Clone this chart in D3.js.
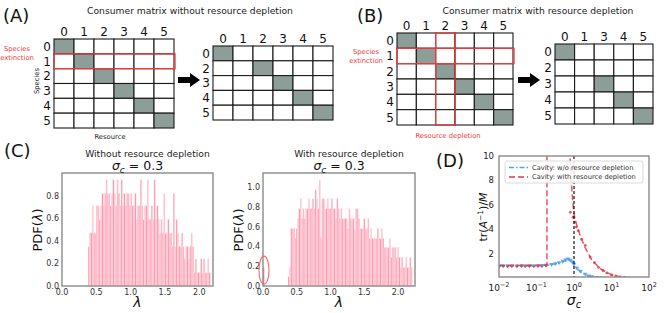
<!DOCTYPE html>
<html>
<head>
<meta charset="utf-8">
<script src="https://cdn.jsdelivr.net/npm/d3@7"></script>
<style>
  body { margin: 0; background: #fff; }
  text { font-family: "DejaVu Sans", sans-serif; }
</style>
</head>
<body>
<svg id="fig" width="664" height="313"></svg>
<script>
// ---- panel A / B : consumer matrices ----
const speciesAll = [0, 1, 2, 3, 4, 5];
const resourceAll = [0, 1, 2, 3, 4, 5];
const consumes = [[0, 0], [1, 1], [2, 2], [3, 3], [4, 4], [5, 5]]; // [species, resource]
const speciesAfter = [0, 2, 3, 4, 5];          // species 1 extinct
const resourceAfterB = [0, 1, 3, 4, 5];        // resource 2 depleted
const extinctSpecies = 1;
const depletedResource = 2;

// ---- panel C : eigenvalue histograms (sigma_c = 0.3) ----
const binWidth = 0.02;
const histNoDepStart = 0.38;
const histNoDep = [0.35,0.47,0.47,0.71,0.47,0.47,0.71,0.71,0.59,0.71,0.82,0.71,0.82,0.94,0.82,0.82,0.71,0.82,0.94,0.82,
  0.71,0.94,0.82,0.71,0.94,0.71,0.82,0.71,0.82,0.82,0.71,0.82,0.71,0.71,0.82,0.59,0.71,0.71,0.94,0.71,
  0.59,0.71,0.71,0.94,0.59,0.59,0.71,0.59,0.94,0.59,0.71,0.59,0.47,0.59,0.47,0.82,0.47,0.47,0.59,0.47,
  0.47,0.35,0.82,0.35,0.59,0.47,0.35,0.35,0.47,0.35,0.24,0.35,0.35,0.24,0.35,0.47,0.35,0.12,0.24,0.12,
  0.12,0.12,0.24,0.12,0.24,0.12,0.12,0.24,0.12];
const histDepStart = 0.37;
const histDep = [0.10,0.19,0.58,0.58,0.58,0.48,0.58,0.68,0.78,0.88,0.68,0.78,0.68,0.78,0.78,0.88,0.78,0.78,0.88,0.78,
  0.97,0.88,0.78,1.07,0.49,0.88,0.88,0.78,0.78,0.88,0.78,0.78,0.88,0.78,0.78,0.68,0.88,0.78,0.68,0.78,
  0.68,0.68,0.68,0.68,0.58,0.78,0.68,0.68,0.68,0.58,0.78,0.78,0.68,0.58,0.58,0.58,0.68,0.58,0.58,0.68,
  0.48,0.58,0.48,0.48,0.48,0.48,0.58,0.48,0.48,0.58,0.48,0.39,0.39,0.39,0.39,0.48,0.29,0.39,0.39,0.39,
  0.29,0.39,0.29,0.19,0.29,0.19,0.19,0.29,0.19,0.19,0.29,0.19];
const zeroModeLambda = 0.0;
const zeroModePdf = 0.19;

// ---- panel D : tr(A^-1)/M vs sigma_c ----
const cavityNoDep = [[0.01,1.05],[0.03,1.05],[0.1,1.06],[0.15,1.08],[0.2,1.1],[0.3,1.18],[0.4,1.27],[0.5,1.36],
  [0.6,1.44],[0.7,1.5],[0.8,1.5],[0.9,1.38],[1.0,1.15],[1.2,0.82],[1.5,0.52],[2,0.3],[3,0.13],[5,0.05],
  [10,0.015],[30,0.003],[100,0.001]];
const cavityDepLow = [[0.01,1.05],[0.05,1.05],[0.1,1.06],[0.15,1.07],[0.19,1.08],[0.19,12]];
const cavityDepHigh = [[0.75,12],[0.8,9.2],[0.86,7.6],[0.93,6.2],[1.0,5.2],[1.2,4.3],[1.5,3.4],[2,2.5],
  [3,1.5],[5,0.8],[7.5,0.5],[10,0.3],[20,0.09],[50,0.02],[100,0.005]];
const simNoDep = [[0.01,1.03],[0.013,1.04],[0.017,1.03],[0.022,1.04],[0.03,1.03],[0.04,1.05],[0.05,1.04],
  [0.065,1.05],[0.085,1.04],[0.11,1.06],[0.14,1.07],[0.18,1.1],[0.25,1.15],[0.32,1.22],[0.4,1.3],
  [0.5,1.42],[0.6,1.55],[0.7,1.6],[0.8,1.5],[0.9,1.35],[1.0,1.15],[1.2,0.85],[1.5,0.6],[2,0.35],
  [2.5,0.22],[3,0.15],[4,0.08],[5,0.05],[7,0.03],[10,0.02],[15,0.01]];
const simDep = [[0.01,1.0],[0.013,1.01],[0.017,1.0],[0.022,1.01],[0.03,1.0],[0.04,1.01],[0.05,1.0],
  [0.065,1.01],[0.085,1.0],[0.11,1.02],[0.14,1.01],[0.18,1.03],[0.8,5.4],[0.95,5.0],[1.05,4.6],
  [1.15,4.2],[1.3,3.9],[1.6,3.2],[2.0,2.7],[2.7,1.75],[3.5,1.3],[4.5,0.9],[5.9,0.65],[7.5,0.45],
  [10,0.3],[13,0.2],[17,0.13],[22,0.08],[30,0.05],[40,0.03],[55,0.02],[75,0.015],[100,0.01]];
const dTicksX = [0.01, 0.1, 1, 10, 100];
const dTicksY = [2, 4, 6, 8, 10];

const svg = d3.select("#fig");
const RED = "#ee3b3b";
const GRAY_CELL = "#8d9e99";

// panel letters
[["(A)", 3, 22], ["(B)", 357, 22], ["(C)", 4, 157], ["(D)", 436, 167]].forEach(([t, x, y]) => {
  svg.append("text").attr("x", x).attr("y", y).attr("font-size", 18).attr("fill", "#111").text(t);
});

function drawMatrix(opt) {
  const g = svg.append("g");
  const xs = d3.scaleBand().domain(opt.cols).range([opt.x0, opt.x1]);
  const ys = d3.scaleBand().domain(opt.rows).range([opt.y0, opt.y1]);
  const cells = [];
  opt.rows.forEach(r => opt.cols.forEach(c => cells.push({ r, c, on: consumes.some(p => p[0] === r && p[1] === c) })));
  g.selectAll("rect.cell").data(cells).join("rect")
    .attr("class", "cell")
    .attr("x", d => xs(d.c)).attr("y", d => ys(d.r))
    .attr("width", xs.bandwidth()).attr("height", ys.bandwidth())
    .attr("fill", d => d.on ? GRAY_CELL : "#fff")
    .attr("stroke", "#1a1a1a").attr("stroke-width", 1.1);
  g.selectAll("text.col").data(opt.cols).join("text")
    .attr("x", d => xs(d) + xs.bandwidth() / 2).attr("y", opt.y0 - 3)
    .attr("text-anchor", "middle").attr("font-size", 12).attr("fill", "#111").text(d => d);
  g.selectAll("text.row").data(opt.rows).join("text")
    .attr("x", opt.x0 - 3).attr("y", d => ys(d) + ys.bandwidth() / 2 + 4.3)
    .attr("text-anchor", "end").attr("font-size", 12).attr("fill", "#111").text(d => d);
  if (opt.markRow !== undefined) {
    g.append("rect").attr("x", opt.x0).attr("y", ys(opt.markRow))
      .attr("width", opt.x1 - opt.x0 + 1).attr("height", ys.bandwidth())
      .attr("fill", "none").attr("stroke", RED).attr("stroke-width", 1.3);
  }
  if (opt.markCol !== undefined) {
    g.append("rect").attr("x", xs(opt.markCol)).attr("y", opt.y0)
      .attr("width", xs.bandwidth()).attr("height", opt.y1 - opt.y0)
      .attr("fill", "none").attr("stroke", RED).attr("stroke-width", 1.3);
  }
  return g;
}

function drawArrow(x, y) {
  const p = d3.path();
  p.moveTo(x, y - 3); p.lineTo(x + 12, y - 3); p.lineTo(x + 12, y - 7);
  p.lineTo(x + 22, y); p.lineTo(x + 12, y + 7); p.lineTo(x + 12, y + 3); p.lineTo(x, y + 3); p.closePath();
  svg.append("path").attr("d", p.toString()).attr("fill", "#000");
}

function redText(lines, x, y) {
  lines.forEach((t, i) => svg.append("text").attr("x", x).attr("y", y + i * 9)
    .attr("text-anchor", "middle").attr("font-size", 6.8).attr("fill", RED).text(t));
}

// Panel A
svg.append("text").attr("x", 190).attr("y", 14).attr("text-anchor", "middle")
  .attr("font-size", 9.2).attr("fill", "#222").text("Consumer matrix without resource depletion");
drawMatrix({ rows: speciesAll, cols: resourceAll, x0: 54, x1: 174, y0: 39, y1: 128, markRow: extinctSpecies });
drawMatrix({ rows: speciesAfter, cols: resourceAll, x0: 213, x1: 333, y0: 46, y1: 120 });
redText(["Species", "extinction"], 17, 51);
svg.append("text").attr("transform", "translate(39,81) rotate(-90)").attr("text-anchor", "middle")
  .attr("font-size", 6.8).attr("fill", "#222").text("Species");
svg.append("text").attr("x", 110).attr("y", 139).attr("text-anchor", "middle")
  .attr("font-size", 6.8).attr("fill", "#222").text("Resource");
drawArrow(178, 80);

// Panel B
svg.append("text").attr("x", 538).attr("y", 14).attr("text-anchor", "middle")
  .attr("font-size", 9.2).attr("fill", "#222").text("Consumer matrix with resource depletion");
drawMatrix({ rows: speciesAll, cols: resourceAll, x0: 397, x1: 513, y0: 33, y1: 125, markRow: extinctSpecies, markCol: depletedResource });
drawMatrix({ rows: speciesAfter, cols: resourceAfterB, x0: 555, x1: 653, y0: 44, y1: 124 });
redText(["Species", "extinction"], 366, 54);
redText(["Resource depletion"], 448, 138);
drawArrow(518, 80);

// Panel C histograms
function drawHist(o) {
  const g = svg.append("g");
  const x = d3.scaleLinear().domain(o.xDomain).range([o.left, o.right]);
  const y = d3.scaleLinear().domain(o.yDomain).range([o.bottom, o.top]);
  const bars = o.values.map((v, i) => ({ x0: o.start + i * binWidth, v, i }));
  g.selectAll("rect.bar").data(bars).join("rect")
    .attr("x", d => x(d.x0)).attr("width", x(binWidth) - x(0))
    .attr("y", d => y(d.v)).attr("height", d => y(0) - y(d.v))
    .attr("fill", d => d.i % 2 ? "#ffb8c6" : "#ff96ac")
    .attr("stroke", "#ffe3e9").attr("stroke-width", 0.3);
  if (o.extra) {
    g.append("rect").attr("x", x(o.extra[0])).attr("width", x(binWidth) - x(0))
      .attr("y", y(o.extra[1])).attr("height", y(0) - y(o.extra[1])).attr("fill", "#ff96ac");
  }
  g.append("rect").attr("x", o.left).attr("y", o.top).attr("width", o.right - o.left).attr("height", o.bottom - o.top)
    .attr("fill", "none").attr("stroke", "#8a8a8a").attr("stroke-width", 1.4);
  g.selectAll("text.yt").data(o.yTicks).join("text")
    .attr("x", o.left - 3).attr("y", d => y(d) + 3).attr("text-anchor", "end")
    .attr("font-size", 8).attr("fill", "#333").text(d => d3.format(".1f")(d));
  g.selectAll("text.xt").data([0, 0.5, 1, 1.5, 2]).join("text")
    .attr("x", d => x(d)).attr("y", o.bottom + 9).attr("text-anchor", "middle")
    .attr("font-size", 8).attr("fill", "#333").text(d => d3.format(".1f")(d));
  const cx = (o.left + o.right) / 2;
  g.append("text").attr("x", cx + 10).attr("y", 157).attr("text-anchor", "middle")
    .attr("font-size", 9.2).attr("fill", "#222").text(o.title);
  const s = g.append("text").attr("x", cx).attr("y", 170).attr("text-anchor", "middle")
    .attr("font-size", 12.5).attr("fill", "#111");
  s.append("tspan").attr("font-style", "italic").text("σ");
  s.append("tspan").attr("font-style", "italic").attr("font-size", 9).attr("dy", 2.5).text("c");
  s.append("tspan").attr("dy", -2.5).text(" = 0.3");
  g.append("text").attr("x", cx).attr("y", 307).attr("text-anchor", "middle")
    .attr("font-size", 14).attr("font-style", "italic").attr("fill", "#111").text("λ");
  const yl = g.append("text").attr("transform", `translate(${o.left - 20},230) rotate(-90)`)
    .attr("text-anchor", "middle").attr("font-size", 13).attr("fill", "#111");
  yl.append("tspan").text("PDF(");
  yl.append("tspan").attr("font-style", "italic").text("λ");
  yl.append("tspan").text(")");
  return { g, x, y };
}

drawHist({ left: 62, right: 213, top: 173, bottom: 286, xDomain: [0, 2.2], yDomain: [0, 1.0],
  yTicks: [0, 0.2, 0.4, 0.6, 0.8], start: histNoDepStart, values: histNoDep, title: "Without resource depletion" });
const h2 = drawHist({ left: 263, right: 415, top: 173, bottom: 286, xDomain: [0, 2.25], yDomain: [0, 1.14],
  yTicks: [0, 0.2, 0.4, 0.6, 0.8, 1.0], start: histDepStart, values: histDep, title: "With resource depletion",
  extra: [zeroModeLambda, zeroModePdf] });
h2.g.append("ellipse").attr("cx", h2.x(zeroModeLambda) + 1).attr("cy", h2.y(zeroModePdf) + 3)
  .attr("rx", 5).attr("ry", 14).attr("fill", "none").attr("stroke", "#f06a6a").attr("stroke-width", 1.1);

// Panel D
const dx = d3.scaleLog().domain([0.01, 100]).range([499, 649]);
const dy = d3.scaleLinear().domain([0.12, 10]).range([277, 156]);
svg.append("clipPath").attr("id", "clipD").append("rect")
  .attr("x", 499).attr("y", 156).attr("width", 150).attr("height", 121);
const gd = svg.append("g").attr("clip-path", "url(#clipD)");
const line = d3.line().x(d => dx(d[0])).y(d => dy(d[1]));
const BLUE = "#4f9cf0";
const REDL = "#e8363e";

gd.selectAll("path.simb").data(simNoDep).join("path")
  .attr("d", d3.symbol(d3.symbolTriangle, 9))
  .attr("transform", d => `translate(${dx(d[0])},${dy(d[1])}) rotate(180)`)
  .attr("fill", BLUE).attr("opacity", 0.85);
gd.selectAll("circle.simr").data(simDep).join("circle")
  .attr("cx", d => dx(d[0])).attr("cy", d => dy(d[1])).attr("r", 1.4)
  .attr("fill", REDL).attr("opacity", 0.85);
gd.append("path").attr("d", line(cavityNoDep)).attr("fill", "none")
  .attr("stroke", BLUE).attr("stroke-width", 1.5).attr("stroke-dasharray", "5,2,1.5,2").attr("opacity", 0.9);
[cavityDepLow, cavityDepHigh].forEach(seg => gd.append("path").attr("d", line(seg)).attr("fill", "none")
  .attr("stroke", REDL).attr("stroke-width", 1.5).attr("stroke-dasharray", "6,3").attr("opacity", 0.85));
gd.append("line").attr("x1", dx(1)).attr("x2", dx(1)).attr("y1", 156).attr("y2", 277)
  .attr("stroke", "#111").attr("stroke-width", 1.2).attr("stroke-dasharray", "3,2");

svg.append("rect").attr("x", 499).attr("y", 156).attr("width", 150).attr("height", 121)
  .attr("fill", "none").attr("stroke", "#8a8a8a").attr("stroke-width", 1.4);

const xt = svg.selectAll("text.dxt").data(dTicksX).join("text")
  .attr("x", d => dx(d)).attr("y", 291).attr("text-anchor", "middle")
  .attr("font-size", 9).attr("fill", "#222");
xt.append("tspan").text("10");
xt.append("tspan").attr("font-size", 6.5).attr("dy", -4).text(d => d3.format("d")(Math.log10(d)).replace("-", "−"));
svg.selectAll("text.dyt").data(dTicksY).join("text")
  .attr("x", 494).attr("y", d => dy(d) + 3).attr("text-anchor", "end")
  .attr("font-size", 8.5).attr("fill", "#222").text(d => d);

const sx = svg.append("text").attr("x", 574).attr("y", 305).attr("text-anchor", "middle")
  .attr("font-size", 14).attr("fill", "#111");
sx.append("tspan").attr("font-style", "italic").text("σ");
sx.append("tspan").attr("font-style", "italic").attr("font-size", 10).attr("dy", 3).text("c");

const ylab = svg.append("text").attr("transform", "translate(487,217) rotate(-90)")
  .attr("text-anchor", "middle").attr("font-size", 11).attr("fill", "#111");
ylab.append("tspan").text("tr(");
ylab.append("tspan").attr("font-style", "italic").text("A");
ylab.append("tspan").attr("font-size", 7.5).attr("dy", -4).text("−1");
ylab.append("tspan").attr("dy", 4).text(")/");
ylab.append("tspan").attr("font-style", "italic").text("M");

// legend
const lg = svg.append("g");
lg.append("rect").attr("x", 505).attr("y", 161).attr("width", 138).attr("height", 22).attr("rx", 2)
  .attr("fill", "#fff").attr("fill-opacity", 0.85).attr("stroke", "#d0d0d0").attr("stroke-width", 0.8);
const legendItems = [["Cavity: w/o resource depletion", BLUE, "5,2,1.5,2"], ["Cavity: with resource depletion", REDL, "6,3"]];
legendItems.forEach(([t, c, dash], i) => {
  const yy = 167.5 + i * 9.5;
  lg.append("line").attr("x1", 509).attr("x2", 528).attr("y1", yy).attr("y2", yy)
    .attr("stroke", c).attr("stroke-width", 1.5).attr("stroke-dasharray", dash);
  lg.append("text").attr("x", 532).attr("y", yy + 2.3).attr("font-size", 6.7).attr("fill", "#333").text(t);
});
</script>
</body>
</html>
